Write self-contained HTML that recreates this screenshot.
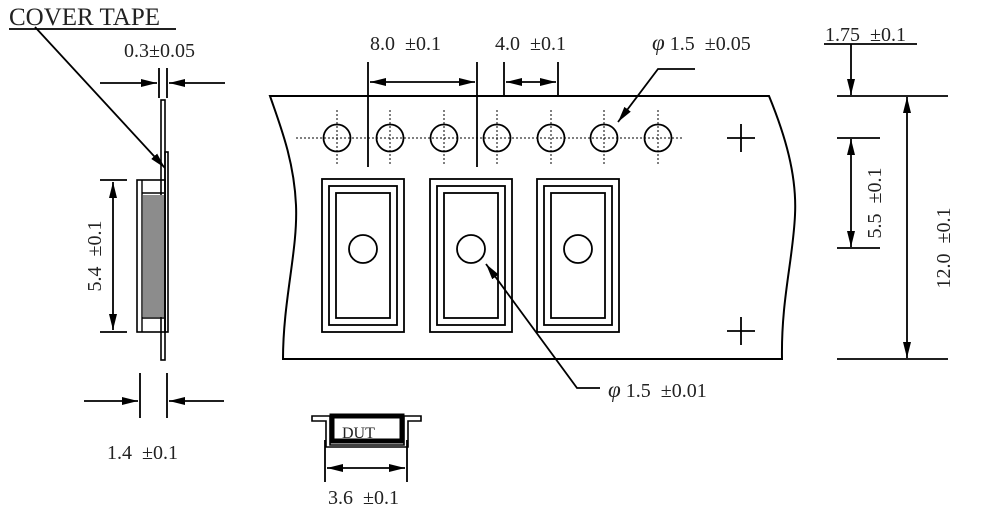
<!DOCTYPE html>
<html><head><style>html,body{margin:0;padding:0;background:#fff}svg{display:block}text{font-family:"Liberation Serif",serif;fill:#222}</style></head>
<body>
<svg width="984" height="520" viewBox="0 0 984 520" xmlns="http://www.w3.org/2000/svg">
<defs>
<marker id="a" viewBox="0 0 16 8" refX="16" refY="4" markerWidth="16" markerHeight="8" orient="auto-start-reverse" markerUnits="userSpaceOnUse"><path d="M0,0L16,4L0,8z" fill="#000"/></marker>
</defs>
<g stroke="#000" fill="none" stroke-width="2">
<path d="M270,96 L769,96 C785,135 797,175 795,215 C793,260 781,300 782,359 L283,359 C283,300 298,250 296,205 C294,160 280,125 270,96 Z"/>
</g>
<g stroke="#000" fill="none" stroke-width="1" stroke-dasharray="2,2">
<line x1="296" y1="138" x2="684" y2="138"/>
<line x1="337" y1="110" x2="337" y2="164"/><line x1="390" y1="110" x2="390" y2="164"/><line x1="444" y1="110" x2="444" y2="164"/><line x1="497" y1="110" x2="497" y2="164"/><line x1="551" y1="110" x2="551" y2="164"/><line x1="604" y1="110" x2="604" y2="164"/><line x1="658" y1="110" x2="658" y2="164"/>
</g>
<g stroke="#000" fill="none" stroke-width="1.8">
<circle cx="337" cy="138" r="13.5"/><circle cx="390" cy="138" r="13.5"/><circle cx="444" cy="138" r="13.5"/><circle cx="497" cy="138" r="13.5"/><circle cx="551" cy="138" r="13.5"/><circle cx="604" cy="138" r="13.5"/><circle cx="658" cy="138" r="13.5"/>
<path d="M727,138H755M741,124V152M727,331H755M741,317V345"/>
<g id="p"><rect x="322" y="179" width="82" height="153"/><rect x="329" y="186" width="68" height="139"/><rect x="336" y="193" width="54" height="125"/><circle cx="363" cy="249" r="14"/></g>
<use href="#p" x="108"/><use href="#p" x="215"/>
<path d="M368,62V167M477,62V167M504,62V96M558,62V96"/>
<line x1="370" y1="82" x2="475" y2="82" marker-start="url(#a)" marker-end="url(#a)"/>
<line x1="506" y1="82" x2="556" y2="82" marker-start="url(#a)" marker-end="url(#a)"/>
<path d="M695,69H658L618,122" marker-end="url(#a)"/>
<path d="M600,388H577L486,264" marker-end="url(#a)"/>
<path d="M824,44H917M837,96H948M837,138H880M837,248H880M837,359H948"/>
<line x1="851" y1="44" x2="851" y2="95" marker-end="url(#a)"/>
<line x1="851" y1="139" x2="851" y2="247" marker-start="url(#a)" marker-end="url(#a)"/>
<line x1="907" y1="97" x2="907" y2="358" marker-start="url(#a)" marker-end="url(#a)"/>
<path d="M9,29H176"/>
<line x1="35" y1="27" x2="165" y2="168" marker-end="url(#a)"/>
<path d="M159,68V98M167,68V98"/>
<line x1="100" y1="83" x2="157" y2="83" marker-end="url(#a)"/>
<line x1="225" y1="83" x2="169" y2="83" marker-end="url(#a)"/>
<rect x="161" y="100" width="4" height="260" stroke-width="1.6"/>
<rect x="165" y="152" width="3" height="180" stroke-width="1.6"/>
<rect x="137" y="180" width="28" height="152" stroke-width="1.6"/>
<path d="M142,180V332M142,193H164M142,318H164" stroke-width="1.4"/>
<rect x="143" y="195" width="21" height="122" fill="#8c8c8c" stroke="none"/>
<path d="M100,180H127M100,332H127"/>
<line x1="113" y1="182" x2="113" y2="330" marker-start="url(#a)" marker-end="url(#a)"/>
<path d="M140,373V418M167,373V418"/>
<line x1="84" y1="401" x2="138" y2="401" marker-end="url(#a)"/>
<line x1="224" y1="401" x2="169" y2="401" marker-end="url(#a)"/>
<path d="M312,416H330V445H404V416H421V421H408V447H326V421H312Z" stroke-width="1.6"/>
<rect x="332" y="416" width="70" height="25" stroke-width="5"/>
<path d="M325,440V482M407,440V482"/>
<line x1="327" y1="468" x2="405" y2="468" marker-start="url(#a)" marker-end="url(#a)"/>
</g>
<g font-size="20">
<text x="9" y="25" font-size="25">COVER TAPE</text>
<text x="124" y="57">0.3±0.05</text>
<text x="370" y="50">8.0&#160;&#160;±0.1</text>
<text x="495" y="50">4.0&#160;&#160;±0.1</text>
<text x="652" y="50"><tspan font-style="italic" font-size="23">φ</tspan> 1.5&#160;&#160;±0.05</text>
<text x="825" y="41">1.75&#160;&#160;±0.1</text>
<text x="608" y="397"><tspan font-style="italic" font-size="23">φ</tspan> 1.5&#160;&#160;±0.01</text>
<text x="107" y="459">1.4&#160;&#160;±0.1</text>
<text x="328" y="504">3.6&#160;&#160;±0.1</text>
<text x="342" y="438" font-size="16">DUT</text>
<text transform="translate(101,256) rotate(-90)" text-anchor="middle">5.4&#160;&#160;±0.1</text>
<text transform="translate(881,203) rotate(-90)" text-anchor="middle">5.5&#160;&#160;±0.1</text>
<text transform="translate(950,248) rotate(-90)" text-anchor="middle">12.0&#160;&#160;±0.1</text>
</g>
</svg>
</body></html>
